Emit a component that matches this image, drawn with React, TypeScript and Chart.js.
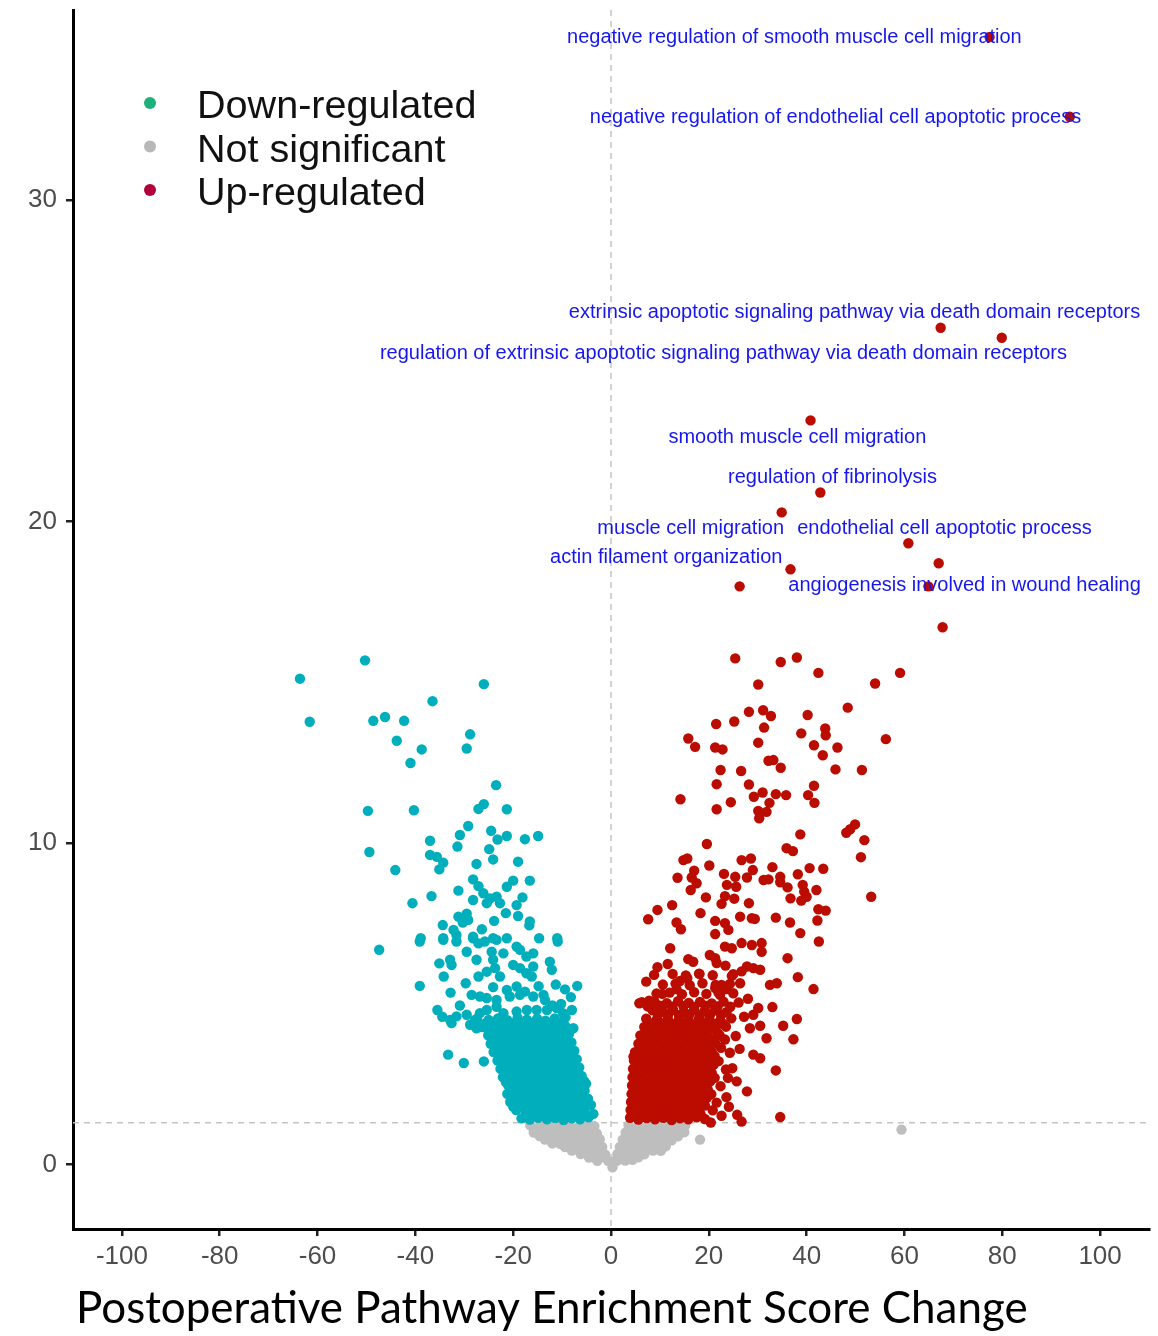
import React, { useEffect, useRef } from "react";
import { Chart, registerables } from "chart.js";

Chart.register(...registerables);

// ---------- axis ticks ----------
const xTicks = [-100, -80, -60, -40, -20, 0, 20, 40, 60, 80, 100];
const yTicks = [0, 10, 20, 30];
const xRange = [-110, 110];
const yRange = [-2, 35.9];
const pThreshold = 1.3;
const fcThreshold = 0;

const legendLabels = ["Down-regulated", "Not significant", "Up-regulated"];
const xTitle = "Postoperative Pathway Enrichment Score Change";

// ---------- labelled pathways (up-regulated) ----------
const pathwayNames = [
  "negative regulation of smooth muscle cell migration",
  "negative regulation of endothelial cell apoptotic process",
  "extrinsic apoptotic signaling pathway via death domain receptors",
  "regulation of extrinsic apoptotic signaling pathway via death domain receptors",
  "smooth muscle cell migration",
  "regulation of fibrinolysis",
  "muscle cell migration",
  "endothelial cell apoptotic process",
  "actin filament organization",
  "angiogenesis involved in wound healing",
];
const pathwayX = [77.4, 93.8, 67.4, 79.9, 40.8, 42.8, 34.9, 60.8, 36.7, 64.9];
const pathwayY = [35.06, 32.58, 26.02, 25.71, 23.14, 20.9, 20.28, 19.32, 18.51, 17.98];
const labelX = [37.5, 45.9, 49.8, 23.0, 38.1, 45.3, 16.3, 68.2, 11.3, 72.3];
const labelY = [35.03, 32.55, 26.49, 25.22, 22.61, 21.37, 19.78, 19.78, 18.88, 18.01];

// ---------- up-regulated (other points) ----------
const upRegulated: number[][] = [
  [67.0, 18.7], [26.3, 17.98], [67.8, 16.71],
  [25.4, 15.74], [34.7, 15.63], [38.0, 15.77], [42.4, 15.29], [59.1, 15.29], [30.1, 14.93], [54.0, 14.96],
  [48.4, 14.21], [28.2, 14.08], [31.1, 14.13], [32.7, 13.95], [40.2, 13.98], [21.5, 13.7], [25.2, 13.78],
  [31.3, 13.59], [38.9, 13.41], [43.8, 13.56], [43.9, 13.35], [15.8, 13.25], [17.2, 12.99], [21.3, 12.97],
  [22.8, 12.91], [30.1, 13.12], [41.5, 13.04], [46.3, 12.97], [56.2, 13.23], [43.3, 12.73], [32.2, 12.56],
  [33.2, 12.58], [22.4, 12.27], [26.6, 12.24], [34.7, 12.34], [45.9, 12.29], [51.3, 12.27], [21.6, 11.83],
  [28.2, 11.82], [41.5, 11.78], [14.2, 11.36], [29.2, 11.44], [31.0, 11.57], [33.7, 11.52], [35.8, 11.49],
  [40.3, 11.49], [41.6, 11.25], [24.5, 11.27], [21.6, 11.05], [32.4, 11.25], [31.8, 10.97], [30.1, 11.0],
  [30.3, 10.77], [49.9, 10.58], [48.9, 10.43], [48.1, 10.32], [38.7, 10.27], [51.8, 10.09], [19.6, 9.97],
  [35.9, 9.84], [37.2, 9.75], [51.1, 9.56], [14.8, 9.47], [15.6, 9.52], [26.7, 9.47], [28.6, 9.52],
  [20.1, 9.3], [33.0, 9.25], [40.6, 9.22], [43.4, 9.2], [17.0, 9.14], [13.6, 8.92], [16.5, 8.93],
  [17.5, 8.75], [16.3, 8.54], [23.1, 9.04], [25.4, 8.95], [23.7, 8.7], [25.6, 8.64], [27.8, 8.93],
  [29.0, 9.16], [31.2, 8.85], [32.2, 8.87], [34.6, 8.95], [34.6, 8.78], [38.2, 9.03], [39.2, 8.7],
  [36.1, 8.62], [42.0, 8.54], [39.5, 8.49], [40.0, 8.33], [38.9, 8.21], [19.4, 8.31], [23.3, 8.35],
  [22.6, 8.11], [25.2, 8.27], [28.2, 8.13], [36.7, 8.28], [53.2, 8.33], [9.5, 7.92], [7.6, 7.63],
  [12.5, 8.07], [13.4, 7.53], [14.3, 7.32], [18.3, 7.82], [21.3, 7.58], [23.3, 7.51], [24.0, 7.3],
  [21.3, 7.17], [26.4, 7.71], [28.8, 7.66], [29.4, 7.64], [33.7, 7.68], [36.6, 7.53], [38.7, 7.2],
  [42.4, 7.94], [43.9, 7.9], [42.2, 7.59],
  [42.5, 6.94], [12.1, 6.73], [9.5, 6.14], [11.6, 6.24], [7.2, 5.69], [5.8, 5.02], [7.8, 5.1],
  [10.5, 5.31], [13.4, 5.46], [14.1, 5.71], [15.6, 5.8], [15.8, 6.39], [16.8, 6.31], [18.1, 5.93],
  [20.2, 6.52], [21.3, 6.42], [21.6, 6.27], [23.3, 6.78], [24.7, 6.73], [23.4, 6.19], [26.7, 6.89],
  [28.8, 6.83], [30.8, 6.89], [30.8, 6.62], [24.7, 5.87], [26.4, 5.64], [26.7, 6.01], [27.8, 6.16],
  [29.1, 6.11], [30.5, 6.06], [36.1, 6.42], [32.5, 5.59], [33.9, 5.64], [38.2, 5.83], [41.4, 5.46],
  [21.3, 5.49], [22.6, 5.59], [23.7, 5.46], [25.0, 5.33], [22.3, 5.28], [28.0, 5.16], [33.0, 4.9],
  [30.1, 4.87], [29.1, 4.66], [28.4, 4.24], [30.5, 4.32], [35.2, 4.32], [38.0, 4.53], [31.8, 3.93],
  [37.3, 3.9], [29.1, 3.42], [30.5, 3.31], [33.7, 2.93], [27.8, 2.28], [25.7, 2.59], [25.8, 1.55],
  [26.7, 1.34], [34.6, 1.48], [20.8, 1.69], [20.4, 1.31], [4.6, 3.36], [6.3, 3.52],
  [23.6, 2.1], [24.8, 3.0], [26.3, 3.6], [27.2, 4.6], [24.1, 1.8], [23.9, 2.7],
  [3.9, 1.46], [5.6, 1.4], [7.3, 1.45], [9.0, 1.41], [10.7, 1.46], [12.4, 1.39], [14.1, 1.44], [15.8, 1.41], [17.5, 1.47], [19.2, 1.42],
  [4.7, 1.56], [6.4, 1.58], [8.1, 1.55], [9.8, 1.57], [11.5, 1.54], [13.2, 1.58], [14.9, 1.56], [16.6, 1.55], [18.3, 1.58],
  [4.0, 1.7], [5.8, 1.66], [7.5, 1.71], [9.3, 1.67], [11.0, 1.72], [12.8, 1.65], [14.5, 1.7], [16.2, 1.68], [18.0, 1.73], [22.6, 1.52],
  [4.9, 1.81], [6.7, 1.83], [8.4, 1.8], [10.2, 1.82], [11.9, 1.79], [13.7, 1.83], [15.4, 1.81], [17.1, 1.8], [19.2, 1.84],
  [4.1, 1.95], [5.9, 1.91], [7.7, 1.96], [9.5, 1.9], [11.3, 1.97], [13.1, 1.92], [14.9, 1.95], [16.7, 1.89], [18.5, 1.96], [21.6, 1.93],
  [5.0, 2.06], [6.8, 2.08], [8.6, 2.05], [10.4, 2.07], [12.2, 2.04], [14.0, 2.08], [15.8, 2.06], [17.6, 2.05], [19.6, 2.08],
  [4.2, 2.2], [6.0, 2.16], [7.8, 2.21], [9.6, 2.17], [11.4, 2.22], [13.2, 2.15], [15.0, 2.2], [16.8, 2.18], [18.6, 2.23], [20.5, 2.19],
  [5.1, 2.31], [6.9, 2.33], [8.7, 2.3], [10.6, 2.32], [12.4, 2.29], [14.2, 2.33], [16.1, 2.31], [17.9, 2.3], [19.8, 2.33],
  [4.3, 2.46], [6.1, 2.42], [7.9, 2.47], [9.8, 2.41], [11.6, 2.48], [13.4, 2.43], [15.3, 2.46], [17.1, 2.4], [19.0, 2.47], [22.4, 2.44],
  [5.2, 2.57], [7.1, 2.59], [9.0, 2.56], [10.9, 2.58], [12.7, 2.55], [14.6, 2.59], [16.5, 2.57], [18.3, 2.56], [20.3, 2.59],
  [4.4, 2.72], [6.3, 2.68], [8.2, 2.73], [10.0, 2.67], [11.9, 2.74], [13.8, 2.69], [15.6, 2.72], [17.5, 2.66], [19.4, 2.73], [21.2, 2.7],
  [5.4, 2.83], [7.3, 2.85], [9.2, 2.82], [11.1, 2.84], [13.0, 2.81], [14.9, 2.85], [16.8, 2.83], [18.6, 2.82], [20.6, 2.85],
  [4.5, 2.98], [6.4, 2.94], [8.3, 2.99], [10.2, 2.93], [12.1, 3.0], [14.0, 2.95], [15.9, 2.98], [17.8, 2.92], [19.7, 2.99], [23.5, 2.96],
  [5.6, 3.09], [7.5, 3.11], [9.4, 3.08], [11.3, 3.1], [13.2, 3.07], [15.1, 3.11], [17.0, 3.09], [18.9, 3.08], [21.0, 3.11],
  [4.7, 3.24], [6.6, 3.2], [8.5, 3.25], [10.4, 3.19], [12.4, 3.26], [14.3, 3.21], [16.2, 3.24], [18.1, 3.18], [20.0, 3.25], [22.0, 3.22],
  [5.8, 3.35], [7.7, 3.37], [9.7, 3.34], [11.6, 3.36], [13.6, 3.33], [15.5, 3.37], [17.4, 3.35], [19.3, 3.34], [21.2, 3.37],
  [4.9, 3.5], [6.9, 3.46], [8.9, 3.51], [10.9, 3.45], [12.8, 3.52], [14.8, 3.47], [16.7, 3.5], [18.6, 3.44], [20.6, 3.51], [24.3, 3.48],
  [6.4, 3.61], [8.3, 3.63], [10.2, 3.6], [12.2, 3.62], [14.1, 3.59], [16.1, 3.63], [18.0, 3.61], [19.9, 3.6], [22.5, 3.63],
  [5.6, 3.76], [7.6, 3.72], [9.6, 3.77], [11.6, 3.71], [13.5, 3.78], [15.5, 3.73], [17.5, 3.76], [19.4, 3.7], [21.4, 3.77],
  [6.8, 3.87], [8.8, 3.89], [10.8, 3.86], [12.8, 3.88], [14.7, 3.85], [16.7, 3.89], [18.7, 3.87], [20.7, 3.86], [23.3, 3.89],
  [6.0, 4.02], [8.0, 3.98], [10.0, 4.03], [12.0, 3.97], [14.0, 4.04], [16.0, 3.99], [18.0, 4.02], [20.0, 3.96], [22.2, 4.03], [25.5, 4.0],
  [7.4, 4.13], [9.5, 4.15], [11.5, 4.12], [13.6, 4.14], [15.6, 4.11], [17.6, 4.15], [19.6, 4.13], [21.7, 4.12],
  [6.8, 4.28], [9.0, 4.24], [11.0, 4.29], [13.1, 4.23], [15.1, 4.3], [17.1, 4.25], [19.2, 4.28], [21.3, 4.22], [23.5, 4.29],
  [8.0, 4.39], [10.1, 4.41], [12.3, 4.38], [14.4, 4.4], [16.5, 4.37], [18.6, 4.41], [20.7, 4.39], [22.9, 4.38],
  [7.2, 4.54], [9.3, 4.5], [11.6, 4.55], [13.8, 4.49], [15.8, 4.56], [17.9, 4.51], [20.1, 4.54], [22.3, 4.48], [24.6, 4.55],
  [9.6, 4.66], [11.7, 4.68], [13.9, 4.65], [16.0, 4.67], [18.1, 4.64], [20.3, 4.68], [22.5, 4.66],
  [8.5, 4.8], [10.6, 4.76], [12.7, 4.81], [14.9, 4.75], [17.0, 4.82], [19.1, 4.77], [21.3, 4.8], [23.6, 4.74],
  [7.5, 4.92], [10.0, 4.94], [12.5, 4.91], [14.8, 4.93], [17.0, 4.9], [19.3, 4.94], [21.8, 4.92], [24.4, 4.91],
  [6.3, 5.05], [8.9, 5.07], [11.4, 5.02], [13.7, 5.08], [15.9, 5.03], [18.2, 5.06], [20.6, 5.01], [23.0, 5.07], [26.1, 5.04],
  [9.3, 5.32], [12.0, 5.35], [14.5, 5.3], [17.0, 5.36], [19.5, 5.31], [22.0, 5.34],
  [10.6, 5.6], [13.2, 5.63], [16.1, 5.58], [18.7, 5.64], [21.4, 5.59], [24.3, 5.62],
  [8.8, 5.9], [12.6, 5.93], [15.3, 5.88], [18.0, 5.94], [20.8, 5.89], [25.0, 5.92],
];

// ---------- down-regulated ----------
const downRegulated: number[][] = [
  [-63.6, 15.11], [-50.3, 15.68], [-61.6, 13.77], [-48.6, 13.8], [-46.2, 13.92], [-42.3, 13.8], [-36.5, 14.41],
  [-26.0, 14.94], [-28.8, 13.38], [-43.8, 13.18], [-38.7, 12.91], [-29.5, 12.94], [-41.0, 12.49], [-23.5, 11.8],
  [-49.7, 11.0], [-40.3, 11.02], [-26.0, 11.21], [-27.1, 11.06], [-21.3, 11.05], [-29.2, 10.53], [-30.9, 10.25],
  [-24.5, 10.38], [-21.3, 10.22], [-23.2, 10.11], [-17.6, 10.12], [-14.9, 10.22], [-37.0, 10.07], [-31.4, 9.89],
  [-24.9, 9.81], [-49.4, 9.72], [-37.0, 9.63], [-35.6, 9.57], [-34.3, 9.39], [-35.1, 9.18], [-24.1, 9.49],
  [-27.5, 9.35], [-19.0, 9.42], [-44.1, 9.16], [-28.2, 8.87], [-27.1, 8.66], [-20.0, 8.83], [-21.3, 8.64],
  [-16.6, 8.83], [-31.2, 8.52], [-36.7, 8.35], [-40.6, 8.13], [-26.1, 8.44], [-24.7, 8.28], [-23.4, 8.33],
  [-22.7, 8.13], [-25.4, 8.13], [-28.2, 8.23], [-18.1, 8.31], [-19.3, 8.07], [-21.5, 7.82], [-19.0, 7.73],
  [-31.2, 7.71], [-29.5, 7.8], [-30.3, 7.53], [-29.2, 7.61], [-23.9, 7.58], [-16.6, 7.56], [-16.7, 7.44],
  [-34.4, 7.45], [-32.2, 7.3], [-31.6, 7.14], [-26.4, 7.32], [-38.9, 7.04], [-34.3, 7.04], [-28.2, 7.04],
  [-24.1, 7.04], [-21.3, 7.04], [-14.7, 7.04], [-11.0, 7.04],
  [-39.1, 6.94], [-47.4, 6.68], [-31.6, 6.94], [-10.9, 6.94], [-34.3, 6.99], [-28.2, 7.09], [-27.1, 6.88],
  [-25.8, 6.94], [-23.4, 6.99], [-19.3, 6.78], [-29.5, 6.62], [-27.5, 6.37], [-24.4, 6.62], [-24.1, 6.37],
  [-22.0, 6.57], [-18.6, 6.68], [-17.3, 6.47], [-15.9, 6.57], [-35.1, 6.26], [-32.9, 6.37], [-32.6, 6.21],
  [-12.5, 6.31], [-12.1, 6.06], [-34.2, 5.85], [-27.1, 5.85], [-25.4, 6.0], [-23.7, 6.11], [-22.7, 5.85],
  [-20.0, 6.21], [-18.6, 6.11], [-17.3, 5.95], [-15.9, 6.16], [-16.2, 5.85], [-39.1, 5.56], [-32.8, 5.35],
  [-29.7, 5.64], [-6.9, 5.56], [-24.1, 5.52], [-21.3, 5.43], [-19.3, 5.54], [-17.6, 5.38], [-28.5, 5.28],
  [-26.8, 5.23], [-25.4, 5.18], [-23.4, 5.12], [-20.7, 5.23], [-18.6, 5.28], [-15.9, 5.23], [-13.8, 5.28],
  [-13.5, 5.12], [-8.2, 5.21], [-35.5, 4.81], [-32.9, 4.5], [-31.6, 4.61], [-29.5, 4.66], [-27.8, 4.5],
  [-26.8, 4.71], [-25.4, 4.81], [-23.4, 4.91], [-22.0, 4.71], [-19.3, 4.76], [-17.2, 4.81], [-15.2, 4.81],
  [-13.1, 4.81], [-11.1, 4.87], [-9.8, 4.71], [-8.0, 4.81], [-32.6, 4.4], [-28.8, 4.35], [-27.5, 4.24],
  [-25.1, 4.19], [-22.7, 4.3], [-20.7, 4.4], [-18.6, 4.24], [-16.6, 4.14], [-14.5, 4.19], [-12.5, 4.35],
  [-10.4, 4.3], [-9.1, 4.09], [-7.7, 4.24], [-33.3, 3.42], [-30.1, 3.16], [-26.0, 3.21],
  [-11.3, 5.6], [-10.2, 5.0], [-9.4, 5.45], [-14.8, 5.55], [-12.0, 4.95], [-30.9, 4.95], [-34.5, 4.6],
  [-18.3, 1.44], [-16.6, 1.4], [-14.9, 1.46], [-13.1, 1.41], [-11.4, 1.45], [-9.7, 1.39], [-8.0, 1.44], [-6.3, 1.41], [-4.6, 1.47], [-3.6, 1.58],
  [-17.4, 1.56], [-15.7, 1.55], [-14.0, 1.57], [-12.2, 1.54], [-10.5, 1.58], [-8.9, 1.55], [-7.2, 1.57], [-5.5, 1.56],
  [-19.4, 1.7], [-17.5, 1.66], [-15.8, 1.71], [-14.0, 1.67], [-12.2, 1.72], [-10.5, 1.65], [-8.8, 1.7], [-7.1, 1.68], [-5.4, 1.73], [-4.1, 1.86],
  [-20.0, 1.81], [-18.1, 1.83], [-16.4, 1.8], [-14.6, 1.82], [-12.8, 1.79], [-11.1, 1.83], [-9.4, 1.81], [-7.7, 1.8], [-6.0, 1.83],
  [-20.6, 1.95], [-18.8, 1.91], [-17.0, 1.96], [-15.2, 1.9], [-13.4, 1.97], [-11.7, 1.92], [-9.9, 1.95], [-8.2, 1.89], [-6.5, 1.96], [-4.7, 2.05],
  [-19.9, 2.06], [-18.1, 2.08], [-16.3, 2.05], [-14.5, 2.07], [-12.8, 2.04], [-11.0, 2.08], [-9.3, 2.06], [-7.6, 2.05], [-5.9, 2.08],
  [-21.2, 2.2], [-19.4, 2.16], [-17.6, 2.21], [-15.9, 2.17], [-14.1, 2.22], [-12.3, 2.15], [-10.6, 2.2], [-8.9, 2.18], [-7.2, 2.23], [-5.4, 2.3],
  [-20.2, 2.31], [-18.4, 2.33], [-16.6, 2.3], [-14.8, 2.32], [-13.0, 2.29], [-11.2, 2.33], [-9.4, 2.31], [-7.7, 2.3], [-6.1, 2.33],
  [-21.0, 2.46], [-19.1, 2.42], [-17.3, 2.47], [-15.4, 2.41], [-13.6, 2.48], [-11.8, 2.43], [-10.0, 2.46], [-8.3, 2.4], [-6.6, 2.47], [-5.1, 2.52],
  [-21.5, 2.57], [-19.7, 2.59], [-17.9, 2.56], [-16.0, 2.58], [-14.2, 2.55], [-12.4, 2.59], [-10.6, 2.57], [-8.8, 2.56], [-7.1, 2.59], [-5.5, 2.6],
  [-22.1, 2.72], [-20.3, 2.68], [-18.5, 2.73], [-16.7, 2.67], [-14.8, 2.74], [-13.0, 2.69], [-11.2, 2.72], [-9.4, 2.66], [-7.7, 2.73], [-6.0, 2.76],
  [-21.4, 2.83], [-19.6, 2.85], [-17.8, 2.82], [-16.0, 2.84], [-14.1, 2.81], [-12.3, 2.85], [-10.5, 2.83], [-8.7, 2.82], [-7.0, 2.85],
  [-22.6, 2.98], [-20.7, 2.94], [-18.9, 2.99], [-17.1, 2.93], [-15.3, 3.0], [-13.5, 2.95], [-11.7, 2.98], [-9.9, 2.92], [-8.2, 2.99], [-6.5, 3.02],
  [-21.9, 3.09], [-20.1, 3.11], [-18.3, 3.08], [-16.5, 3.1], [-14.7, 3.07], [-12.9, 3.11], [-11.1, 3.09], [-9.3, 3.08], [-7.5, 3.11],
  [-23.2, 3.24], [-21.4, 3.2], [-19.6, 3.25], [-17.8, 3.19], [-16.0, 3.26], [-14.2, 3.21], [-12.4, 3.24], [-10.6, 3.18], [-8.8, 3.25], [-7.0, 3.28],
  [-22.7, 3.35], [-20.8, 3.37], [-19.0, 3.34], [-17.2, 3.36], [-15.3, 3.33], [-13.5, 3.37], [-11.7, 3.35], [-9.9, 3.34], [-8.1, 3.37],
  [-24.0, 3.5], [-22.1, 3.46], [-20.3, 3.51], [-18.5, 3.45], [-16.6, 3.52], [-14.8, 3.47], [-13.0, 3.5], [-11.2, 3.44], [-9.4, 3.51], [-7.5, 3.54],
  [-23.3, 3.61], [-21.5, 3.63], [-19.6, 3.6], [-17.8, 3.62], [-15.9, 3.59], [-14.1, 3.63], [-12.3, 3.61], [-10.5, 3.6], [-8.7, 3.63],
  [-24.6, 3.76], [-22.8, 3.72], [-20.9, 3.77], [-19.1, 3.71], [-17.2, 3.78], [-15.4, 3.73], [-13.6, 3.76], [-11.8, 3.7], [-10.0, 3.77], [-8.1, 3.8],
  [-23.9, 3.87], [-22.1, 3.89], [-20.2, 3.86], [-18.4, 3.88], [-16.6, 3.85], [-14.8, 3.89], [-13.0, 3.87], [-11.1, 3.86], [-9.3, 3.89],
  [-25.1, 4.02], [-23.3, 3.98], [-21.4, 4.03], [-19.6, 3.97], [-17.8, 4.04], [-16.0, 3.99], [-14.2, 4.02], [-12.4, 3.96], [-10.5, 4.03], [-8.6, 4.06],
  [-24.7, 4.13], [-22.9, 4.15], [-21.0, 4.12], [-19.1, 4.14], [-17.3, 4.11], [-15.5, 4.15], [-13.7, 4.13], [-11.8, 4.12], [-10.0, 4.15],
  [-26.3, 4.28], [-24.4, 4.24], [-22.5, 4.29], [-20.6, 4.23], [-18.7, 4.3], [-16.9, 4.25], [-15.0, 4.28], [-13.2, 4.22], [-11.3, 4.29], [-9.4, 4.32],
  [-25.7, 4.39], [-23.8, 4.41], [-21.9, 4.38], [-19.9, 4.4], [-18.0, 4.37], [-16.1, 4.41], [-14.1, 4.39], [-12.3, 4.38], [-10.4, 4.41],
  [-27.4, 4.54], [-25.0, 4.5], [-23.1, 4.55], [-21.2, 4.49], [-19.1, 4.56], [-17.2, 4.51], [-15.1, 4.54], [-13.4, 4.48], [-11.5, 4.55], [-9.3, 4.58],
];

// ---------- not significant ----------
const notSignificant: number[][] = [
  [-16.5, 1.22], [-14.5, 1.2], [-12.5, 1.23], [-10.5, 1.21], [-8.5, 1.22], [-6.5, 1.2], [-4.5, 1.23], [-3.4, 1.2],
  [-15.2, 1.11], [-13.2, 1.1], [-11.2, 1.12], [-9.2, 1.1], [-7.2, 1.11], [-5.2, 1.1], [-3.6, 1.1],
  [-15.8, 1.0], [-13.8, 0.98], [-11.8, 1.01], [-9.8, 0.99], [-7.8, 1.0], [-5.8, 0.98], [-3.8, 1.01], [-2.9, 0.97],
  [-14.6, 0.89], [-12.6, 0.88], [-10.6, 0.9], [-8.6, 0.88], [-6.6, 0.89], [-4.6, 0.88], [-3.0, 0.88],
  [-13.5, 0.78], [-11.5, 0.76], [-9.5, 0.79], [-7.5, 0.77], [-5.5, 0.78], [-3.5, 0.76], [-2.3, 0.79],
  [-12.0, 0.66], [-10.4, 0.65], [-8.4, 0.67], [-6.4, 0.66], [-4.4, 0.65], [-2.6, 0.66],
  [-9.4, 0.55], [-7.4, 0.53], [-5.4, 0.56], [-3.4, 0.54], [-1.8, 0.55],
  [-8.0, 0.44], [-6.3, 0.43], [-4.8, 0.45], [-3.0, 0.44],
  [-6.2, 0.33], [-4.2, 0.31], [-2.3, 0.34], [-1.2, 0.32],
  [-4.5, 0.22], [-3.3, 0.21], [-2.0, 0.23],
  [-2.8, 0.12], [-0.6, 0.12], [0.4, 0.1], [0.3, -0.08],
  [3.6, 1.22], [5.6, 1.2], [7.6, 1.23], [9.6, 1.21], [11.6, 1.22], [13.6, 1.2], [15.2, 1.22],
  [4.3, 1.11], [6.3, 1.1], [8.3, 1.12], [10.3, 1.1], [12.3, 1.11], [14.3, 1.1],
  [3.0, 1.0], [5.0, 0.98], [7.0, 1.01], [9.0, 0.99], [11.0, 1.0], [13.0, 0.98], [15.0, 1.01],
  [3.7, 0.89], [5.7, 0.88], [7.7, 0.9], [9.7, 0.88], [11.7, 0.89], [13.7, 0.88],
  [2.4, 0.78], [4.4, 0.76], [6.4, 0.79], [8.4, 0.77], [10.4, 0.78], [12.4, 0.76],
  [3.1, 0.66], [5.1, 0.65], [7.1, 0.67], [9.1, 0.66], [11.1, 0.65],
  [1.8, 0.55], [3.8, 0.53], [5.8, 0.56], [7.8, 0.54], [9.8, 0.55], [11.2, 0.57],
  [2.6, 0.44], [4.6, 0.43], [6.6, 0.45], [8.6, 0.44], [10.2, 0.43],
  [1.3, 0.33], [3.1, 0.31], [5.0, 0.34], [6.8, 0.32],
  [2.0, 0.22], [3.8, 0.21], [5.6, 0.23],
  [1.2, 0.12], [2.9, 0.13], [4.4, 0.15],
  [18.2, 0.78], [59.4, 1.09],
];

// ---------- colours ----------
const downColor = "#00AFBB";
const upColor = "#BB0C00";
const nsColor = "#BEBEBE";
const legendColors = ["#1DB07C", "#B8B8B8", "#B0003A"];
const labelColor = "#1616EE";
const sans = "'Liberation Sans', Arial, Helvetica, sans-serif";

const toPts = (arr: number[][]) => arr.map(([x, y]) => ({ x, y }));

export default function App() {
  const ref = useRef<HTMLCanvasElement | null>(null);

  useEffect(() => {
    document.body.style.margin = "0";
    document.body.style.overflow = "hidden";
    const canvas = ref.current;
    if (!canvas) return;

    const overlay = {
      id: "overlay",
      beforeDatasetsDraw(chart: any) {
        const { ctx, chartArea, scales } = chart;
        ctx.save();
        ctx.strokeStyle = "#C4C4C4";
        ctx.lineWidth = 1.5;
        ctx.setLineDash([6, 5]);
        const x0 = scales.x.getPixelForValue(fcThreshold);
        ctx.beginPath();
        ctx.moveTo(x0, chartArea.top);
        ctx.lineTo(x0, chartArea.bottom);
        ctx.stroke();
        const y0 = scales.y.getPixelForValue(pThreshold);
        ctx.beginPath();
        ctx.moveTo(chartArea.left, y0);
        ctx.lineTo(chartArea.right, y0);
        ctx.stroke();
        ctx.restore();
      },
      afterDatasetsDraw(chart: any) {
        const { ctx, scales } = chart;
        ctx.save();
        ctx.fillStyle = labelColor;
        ctx.font = `20px ${sans}`;
        ctx.textAlign = "center";
        ctx.textBaseline = "middle";
        pathwayNames.forEach((name, i) => {
          ctx.fillText(name, scales.x.getPixelForValue(labelX[i]), scales.y.getPixelForValue(labelY[i]));
        });
        ctx.restore();
      },
      afterDraw(chart: any) {
        const { ctx, chartArea } = chart;
        ctx.save();
        // legend
        const lx = chartArea.left + 77;
        const baseTop = chartArea.top + 93;
        legendLabels.forEach((t, i) => {
          const cy = baseTop + i * 43.5;
          ctx.fillStyle = legendColors[i];
          ctx.beginPath();
          ctx.arc(lx, cy, 6, 0, Math.PI * 2);
          ctx.fill();
          ctx.fillStyle = "#111";
          ctx.font = `39.6px ${sans}`;
          ctx.textAlign = "left";
          ctx.textBaseline = "alphabetic";
          ctx.fillText(t, lx + 47, cy + 15);
        });
        // x title
        let size = 40;
        const fam = "Lato, 'Open Sans', sans-serif";
        ctx.font = `${size}px ${fam}`;
        const w = ctx.measureText(xTitle).width;
        size = (size * 952) / w;
        ctx.font = `${size}px ${fam}`;
        ctx.fillStyle = "#000";
        ctx.textAlign = "left";
        ctx.textBaseline = "alphabetic";
        ctx.fillText(xTitle, chartArea.left + 3, 1323);
        ctx.restore();
      },
    };

    const chart = new Chart(canvas, {
      type: "scatter",
      data: {
        datasets: [
          {
            label: legendLabels[2],
            data: [...toPts(upRegulated), ...pathwayX.map((x, i) => ({ x, y: pathwayY[i] }))],
            backgroundColor: upColor,
            borderColor: upColor,
            pointRadius: 5.2,
            borderWidth: 0,
          },
          {
            label: legendLabels[0],
            data: toPts(downRegulated),
            backgroundColor: downColor,
            borderColor: downColor,
            pointRadius: 5.2,
            borderWidth: 0,
          },
          {
            label: legendLabels[1],
            data: toPts(notSignificant),
            backgroundColor: nsColor,
            borderColor: nsColor,
            pointRadius: 5.2,
            borderWidth: 0,
          },
        ],
      },
      options: {
        responsive: false,
        animation: false,
        devicePixelRatio: 1,
        events: [],
        layout: { padding: { top: 10, right: 9, left: 0, bottom: 0 } },
        plugins: { legend: { display: false }, tooltip: { enabled: false }, title: { display: false } },
        scales: {
          x: {
            type: "linear",
            min: xRange[0],
            max: xRange[1],
            afterBuildTicks: (s: any) => { s.ticks = xTicks.map((v) => ({ value: v })); },
            afterFit: (s: any) => { s.height = 107; s.paddingLeft = 0; s.paddingRight = 0; },
            ticks: {
              color: "#4D4D4D",
              font: { family: sans, size: 26 },
              padding: 5,
              maxRotation: 0,
              autoSkip: false,
              callback: (v: any) => String(v),
            },
            grid: { drawOnChartArea: false, drawTicks: true, tickLength: 7, color: "#222", lineWidth: 2.5 },
            border: { display: true, color: "#000", width: 3 },
          },
          y: {
            type: "linear",
            min: yRange[0],
            max: yRange[1],
            afterBuildTicks: (s: any) => { s.ticks = yTicks.map((v) => ({ value: v })); },
            afterFit: (s: any) => { s.width = 73; s.paddingTop = 0; s.paddingBottom = 0; },
            ticks: {
              color: "#4D4D4D",
              font: { family: sans, size: 26 },
              padding: 9,
              callback: (v: any) => String(v),
            },
            grid: { drawOnChartArea: false, drawTicks: true, tickLength: 7, color: "#222", lineWidth: 2.5 },
            border: { display: true, color: "#000", width: 3 },
          },
        },
      } as any,
      plugins: [overlay],
    });

    return () => chart.destroy();
  }, []);

  return (
    <div style={{ width: 1158, height: 1336, background: "#fff" }}>
      <canvas ref={ref} width={1158} height={1336} style={{ display: "block" }} />
    </div>
  );
}
